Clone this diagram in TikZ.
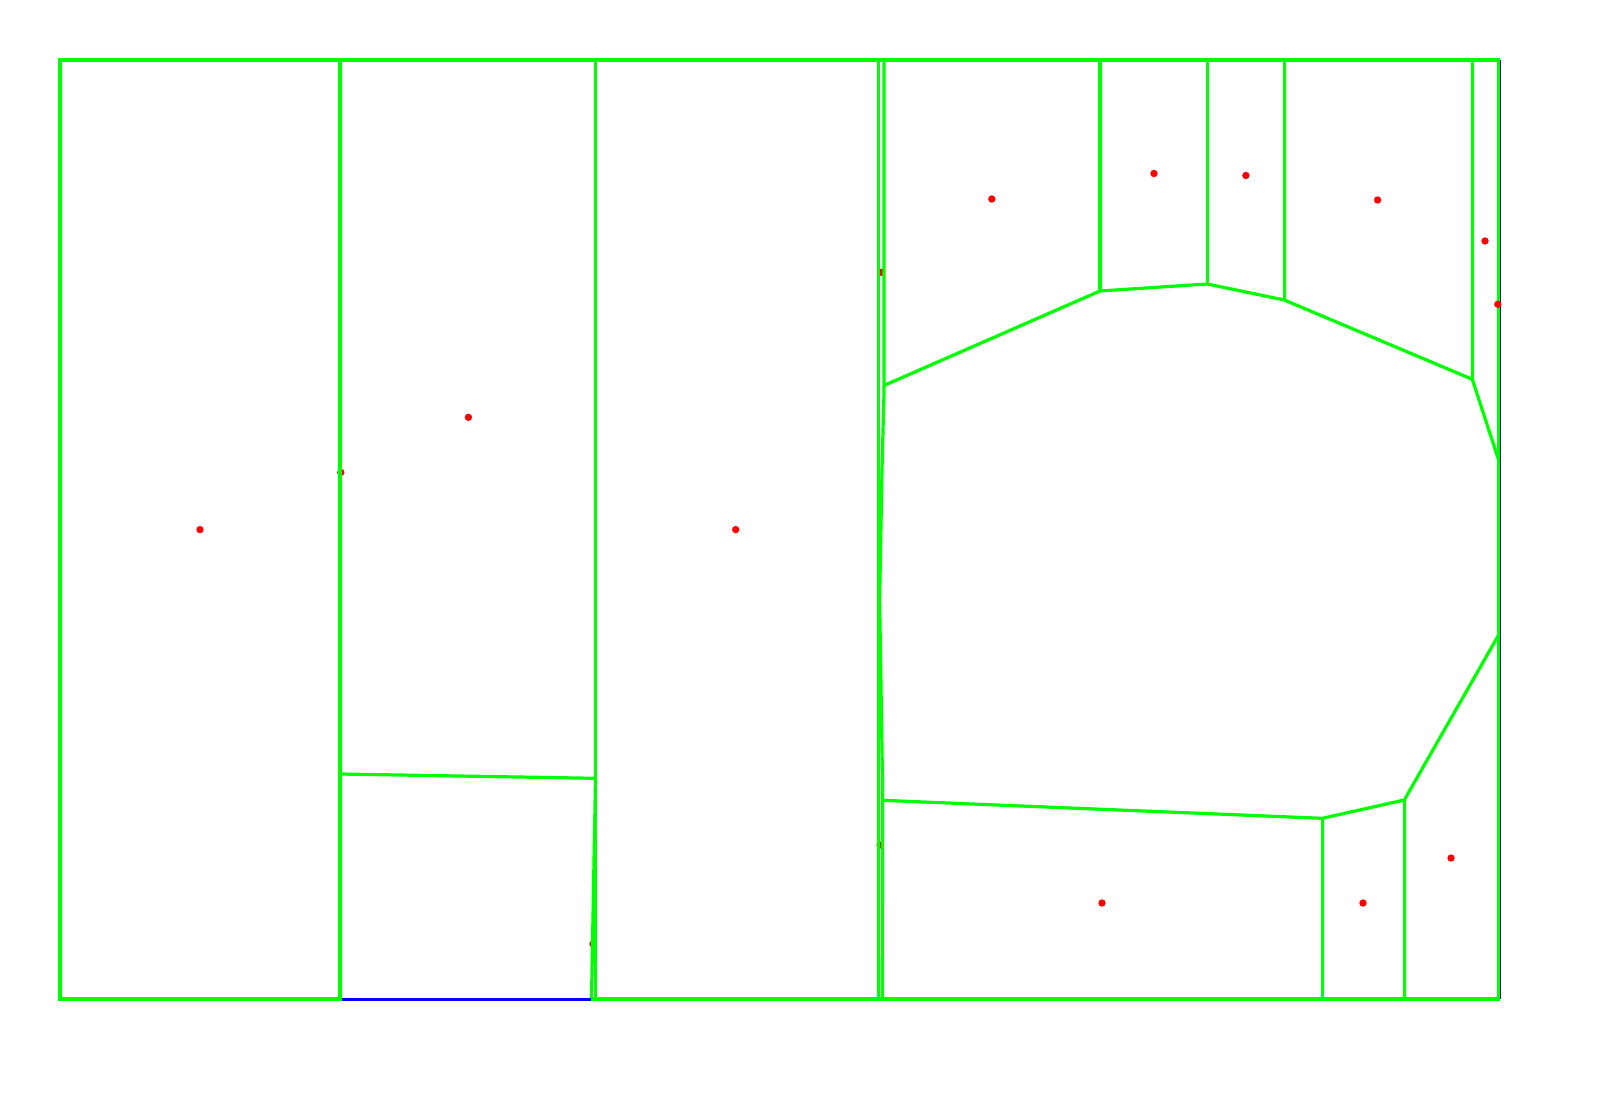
\documentclass[tikz,border=0pt]{standalone}
\definecolor{vgreen}{RGB}{0,255,0}
\definecolor{vred}{RGB}{255,0,0}
\definecolor{vblue}{RGB}{0,0,255}
\begin{document}
\begin{tikzpicture}[x=1pt,y=-1pt,
  edge/.style={draw=vgreen, line width=3.2pt, line join=miter},
  bound/.style={draw=vblue, line width=3pt},
  thinbound/.style={draw=vblue, line width=1.5pt},
  site/.style={fill=vred}]
\useasboundingbox (0,0) rectangle (1600,1100);
% sites
\foreach \p in {(200,529.6),(468.4,417.3),(340.8,472.4),(735.7,529.6),(593,944),
  (881.3,272.3),(880,845),(991.8,199),(1154,173.5),(1245.9,175.5),(1377.6,200),
  (1485,241),(1102,903),(1363,903),(1451,858)}
  \fill[site] \p circle (3.7);
% right boundary (blue)
\draw[thinbound] (1500.5,60) -- (1500.5,999);
% frame
\draw[edge, line cap=rect] (340,999) -- (60,999) -- (60,60) -- (1498.6,60) -- (1498.6,999) -- (592,999);
% left region
\coordinate (L1) at (340,774);
\coordinate (L2) at (595.5,778.3);
\draw[edge] (340,60) -- (340,999);
\draw[edge] (595.5,60) -- (595.5,999);
\draw[edge] (L1) -- (L2);
\draw[edge] (L2) -- (591.5,999);
% middle double line
\draw[edge] (878.3,60) -- (878.3,999);
\draw[edge] (884,60) -- (884,392) -- (882,470) -- (879.6,600) -- (882.5,780) -- (882.3,999);
% top right cells
\coordinate (A) at (1100,291);
\coordinate (B) at (1207.3,284);
\coordinate (C) at (1284.3,300);
\coordinate (D) at (1472.3,379.3);
\coordinate (R1) at (1498.6,460);
\draw[edge] (884,385.5) -- (A) -- (B) -- (C) -- (D) -- (R1);
\draw[edge] (1100,60) -- (A);
\draw[edge] (1207.3,60) -- (B);
\draw[edge] (1284.3,60) -- (C);
\draw[edge] (1472.3,60) -- (D);
% bottom right cells
\coordinate (F) at (1322.3,818.3);
\coordinate (E) at (1404.3,800);
\coordinate (R2) at (1498.6,635);
\draw[edge] (882.3,800.3) -- (F) -- (E) -- (R2);
\draw[edge] (F) -- (1322.3,999);
\draw[edge] (E) -- (1404.3,999);
% bottom boundary (blue)
\draw[bound] (341.8,999) -- (590.5,999);
% site on the boundary
\fill[site] (1497.8,304.3) circle (3.7);
\end{tikzpicture}
\end{document}
